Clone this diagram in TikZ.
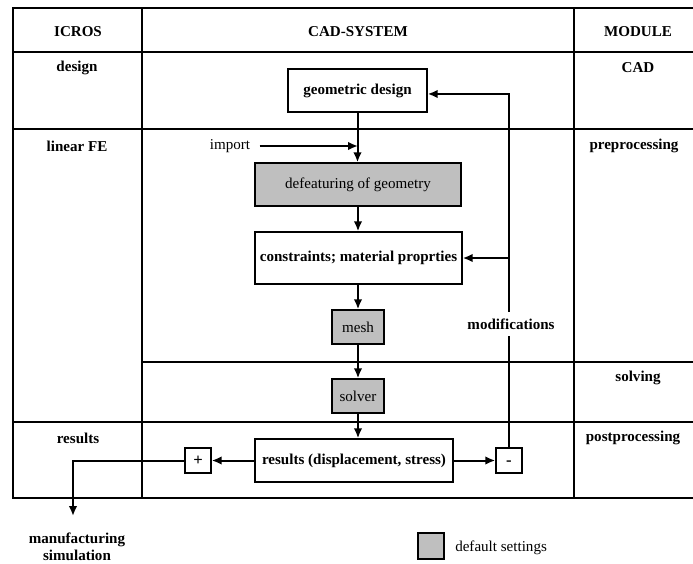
\documentclass[tikz,border=0pt]{standalone}
\usepackage{fontspec}
\setmainfont{Liberation Serif}
\usetikzlibrary{arrows.meta}
\begin{document}
\begin{tikzpicture}[x=0.75pt,y=-0.75pt,
  every node/.style={font=\fontsize{11.3}{13}\selectfont, inner sep=0pt},
  frame/.style={line width=1.8pt},
  grid/.style={line width=1.2pt},
  flow/.style={line width=1.5pt},
  arr/.style={flow,-{Latex[length=7.5pt,width=6.5pt]}},
  box/.style={draw,line width=1.1pt,minimum width=#1,anchor=center},
  graybox/.style={box=#1,fill=black!25},
  hdr/.style={font=\fontsize{11.3}{13}\selectfont\bfseries},
  lbl/.style={font=\fontsize{11.3}{13}\selectfont\bfseries}
]
\useasboundingbox (0,0) rectangle (693,564);
% table
\draw[frame] (693,8) -- (13,8) -- (13,498) -- (693,498);
\draw[frame] (13,52) -- (693,52);
\draw[grid] (13,129) -- (693,129);
\draw[grid] (142,362) -- (693,362);
\draw[grid] (13,422) -- (693,422);
\draw[grid] (142,8) -- (142,498);
\draw[grid] (574,8) -- (574,498);
% headers and labels
\node[hdr] (hicros) at (78,32) {ICROS};
\node[hdr] (hcad) at (358,32) {CAD-SYSTEM};
\node[hdr] (hmod) at (638,32) {MODULE};
\node[lbl] (ldesign) at (77,68) {design};
\node[lbl] (lcad) at (638,68) {CAD};
\node[lbl] (llin) at (77,146) {linear FE};
\node[lbl] (lpre) at (634,146) {preprocessing};
\node[lbl] (lsolv) at (638,378) {solving};
\node[lbl] (lres) at (78,438) {results};
\node[lbl] (lpost) at (633,438) {postprocessing};
% boxes
\node[box=104.25pt,minimum height=32.25pt,font=\fontsize{11.3}{13}\selectfont\bfseries] (geo) at (357.5,90.5) {geometric design};
\node[graybox=154.5pt,minimum height=32.25pt] (defeat) at (358,184.5) {defeaturing of geometry};
\node[box=155.25pt,minimum height=39pt,font=\fontsize{11.3}{13}\selectfont\bfseries] (cons) at (358.5,258) {constraints; material proprties};
\node[graybox=39pt,minimum height=25.5pt] (mesh) at (358,327) {mesh};
\node[graybox=39pt,minimum height=25.5pt] (solver) at (358,396) {solver};
\node[box=148.5pt,minimum height=32.25pt,font=\fontsize{11.3}{13}\selectfont\bfseries] (res) at (354,460.5) {results (displacement, stress)};
\node[box=19.5pt,minimum height=18.75pt,font=\fontsize{12.5}{13}\selectfont\bfseries] (plus) at (198,460.5) {+};
\node[box=19.5pt,minimum height=18.75pt,font=\fontsize{12.5}{13}\selectfont\bfseries] (minus) at (509,460.5) {\vphantom{+}\raisebox{-1pt}{-}};
% import
\node (import) at (230,146) {import};
\coordinate (impend) at (358,146);
\draw[arr] ([xshift=7pt]import.east) -- (impend);
% main flow
\draw[arr] (geo.south) -- (geo.south |- defeat.north);
\draw[arr] (defeat.south) -- (defeat.south |- cons.north);
\draw[arr] (cons.south -| mesh.north) -- (mesh.north);
\draw[arr] (mesh.south) -- (solver.north);
\draw[arr] (solver.south) -- (solver.south |- res.north);
\draw[arr] (res.east) -- (minus.west);
\draw[arr] (res.west) -- (plus.east);
% feedback
\draw[arr] (minus.north) |- ([yshift=-2.6pt]geo.east);
\coordinate (fb) at (minus.north |- cons.east);
\draw[arr] (fb) -- (cons.east);
\node[fill=white,inner xsep=2pt,inner ysep=5pt] (mod) at (511,324) {\bfseries modifications};
% manufacturing
\coordinate (msend) at (73,516);
\draw[arr] (plus.west) -| (msend);
\node[lbl,align=center,font=\fontsize{11.3}{12.5}\selectfont\bfseries] (msim) at (77,547) {manufacturing\\simulation};
% legend
\node[graybox=19.5pt,minimum height=19.5pt] (leg) at (431,546) {};
\node[anchor=west] (legtxt) at (455,548) {default settings};
\end{tikzpicture}
\end{document}
